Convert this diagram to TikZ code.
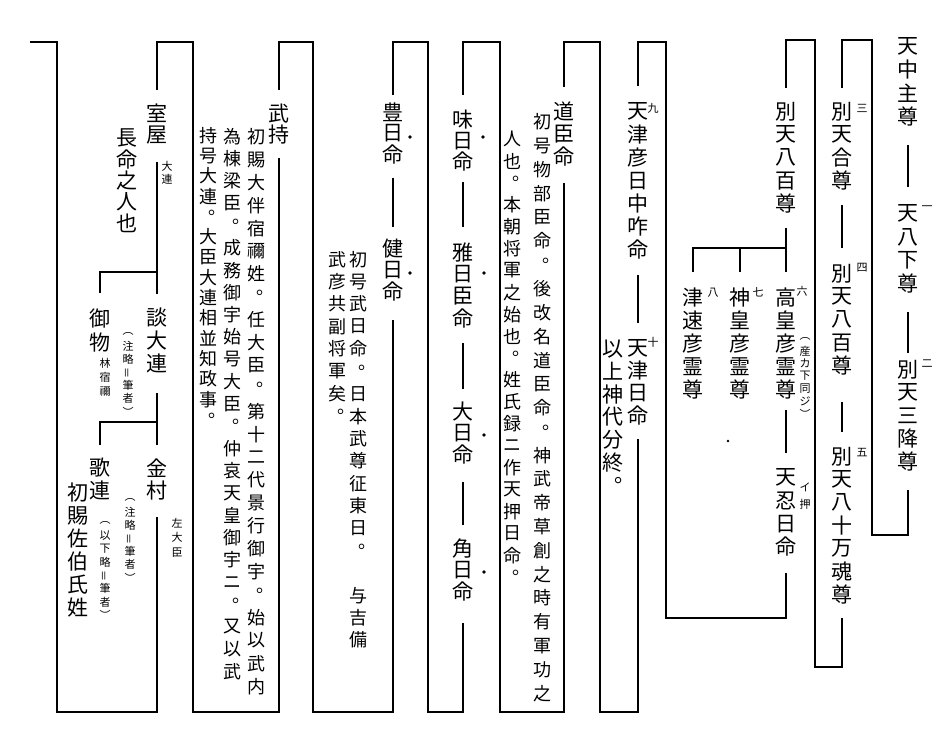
\documentclass[tikz,border=0pt]{standalone}
\usepackage{fontspec}
\setmainfont{Noto Sans CJK JP}
\newcommand\nmf{\fontsize{21pt}{23pt}\selectfont}
\newcommand\ntf{\fontsize{18pt}{21pt}\selectfont}
\newcommand\smf{\fontsize{11pt}{13pt}\selectfont}
\makeatletter
\def\vt@maru{。}
\def\vt@eq{＝}
\newcommand\vt[2]{%
  \vbox{\offinterlineskip
    \@tfor\vt@c:=#2\do{%
      \vbox to #1{\vss
        \hbox to 1em{\hss
          \ifx\vt@c\vt@maru
            \hbox to 1em{\kern.55em\raise.5em\rlap{\vt@c}\hss}%
          \else\ifx\vt@c\vt@eq
            \rotatebox[origin=c]{90}{\vt@c}%
          \else\vt@c\fi\fi
        \hss}\vss}}}}
\makeatother
\begin{document}
\begin{tikzpicture}[x=1pt,y=-1pt,
  nm/.style={anchor=north,inner sep=0pt,font=\nmf},
  nt/.style={anchor=north,inner sep=0pt,font=\ntf},
  sm/.style={anchor=north,inner sep=0pt,font=\smf},
  num/.style={anchor=center,inner sep=0pt,font=\smf},
  ln/.style={line width=1.1pt}]
\fill[white] (0,0) rectangle (941,739);
\useasboundingbox (0,0) rectangle (941,739);
% ---------- corner coordinates
\coordinate (Ab) at (908,535);
\coordinate (Bb) at (872,535); \coordinate (Bt) at (872,40); \coordinate (Bc) at (842,40);
\coordinate (Be) at (842,667);
\coordinate (Cb) at (815,667); \coordinate (Ct) at (815,40); \coordinate (Cc) at (786,40);
\coordinate (Cj1) at (786,248); \coordinate (Cj2) at (740,248); \coordinate (Cj3) at (693,248);
\coordinate (Ce) at (786,618);
\coordinate (Db) at (666,618); \coordinate (Dt) at (666,42); \coordinate (Dc) at (638,42);
\coordinate (De) at (638,712);
\coordinate (Eb) at (600,712); \coordinate (Et) at (600,42); \coordinate (Ec) at (564,42);
\coordinate (Ee) at (564,712);
\coordinate (Fb) at (500,712); \coordinate (Ft) at (500,42); \coordinate (Fc) at (463,42);
\coordinate (Fe) at (463,712);
\coordinate (Gb) at (428,712); \coordinate (Gt) at (428,42); \coordinate (Gc) at (393,42);
\coordinate (Ge) at (393,712);
\coordinate (Hb) at (313,712); \coordinate (Ht) at (313,42); \coordinate (Hc) at (279,42);
\coordinate (He) at (279,712);
\coordinate (Ib) at (193,712); \coordinate (It) at (193,42); \coordinate (Ic) at (157,42);
\coordinate (Ij1) at (157,272); \coordinate (Ij2) at (100,272);
\coordinate (Ik1) at (157,422); \coordinate (Ik2) at (100,422);
\coordinate (Ie) at (157,712);
\coordinate (Jb) at (57,712); \coordinate (Jt) at (57,42); \coordinate (Jc) at (30,42);
% ---------- section A
\node[nm] (a1) at (908,35) {\vt{23.2pt}{天中主尊}};
\node[nm] (a2) at (908,202) {\vt{23.2pt}{天八下尊}};
\node[nm] (a3) at (908,358) {\vt{23pt}{別天三降尊}};
\node[num] (n1) at (927,208) {一};
\node[num] (n2) at (927,364) {二};
% ---------- section B
\node[nm] (b1) at (842,100) {\vt{23pt}{別天合尊}};
\node[nm] (b2) at (842,262) {\vt{23pt}{別天八百尊}};
\node[nm] (b3) at (842,445) {\vt{23pt}{別天八十万魂尊}};
\node[num] (n3) at (862,108) {三};
\node[num] (n4) at (862,268) {四};
\node[num] (n5) at (862,453) {五};
% ---------- section C
\node[nm] (c1) at (786,100) {\vt{23pt}{別天八百尊}};
\node[nm] (c2) at (786,286) {\vt{23pt}{高皇彦霊尊}};
\node[nm] (c3) at (740,286) {\vt{23pt}{神皇彦霊尊}};
\node[nm] (c4) at (693,286) {\vt{23pt}{津速彦霊尊}};
\node[nm] (c5) at (786,466) {\vt{23pt}{天忍日命}};
\node[num] (n6) at (802,291) {六};
\node[num] (n7) at (758,292) {七};
\node[num] (n8) at (713,293) {八};
\node[sm] (c2n) at (805,332) {\vt{12.5pt}{︵産カ下同ジ︶}};
\node[sm] (c5n) at (805,479) {\vt{17pt}{イ押}};
% ---------- section D
\node[nm] (d1) at (638,100) {\vt{23pt}{天津彦日中咋命}};
\node[nm] (d2) at (638,337) {\vt{22.5pt}{天津日命}};
\node[nm] (d3) at (613,337) {\vt{22.8pt}{以上神代分終。}};
\node[num] (n9) at (653,108) {九};
\node[num] (n10) at (653,342) {十};
% ---------- section E
\node[nm] (e1) at (564,100) {\vt{22.5pt}{道臣命}};
\node[nt] (e2) at (542,110) {\vt{23.8pt}{初号物部臣命。後改名道臣命。神武帝草創之時有軍功之}};
\node[nt] (e3) at (512,128) {\vt{21.9pt}{人也。本朝将軍之始也。姓氏録ニ作天押日命。}};
% ---------- section F
\node[nm] (f1) at (463,109) {\vt{21pt}{味日命}};
\node[nm] (f2) at (463,241) {\vt{22pt}{雅日臣命}};
\node[nm] (f3) at (463,401) {\vt{21.5pt}{大日命}};
\node[nm] (f4) at (463,538) {\vt{21.5pt}{角日命}};
% ---------- section G
\node[nm] (g1) at (393,101) {\vt{21.5pt}{豊日命}};
\node[nm] (g2) at (393,238) {\vt{21.5pt}{健日命}};
\node[nt] (g3) at (358,248) {\vt{22.4pt}{初号武日命。日本武尊征東日。　与吉備}};
\node[nt] (g4) at (337,248) {\vt{22.4pt}{武彦共副将軍矣。}};
% ---------- section H
\node[nm] (h1) at (279,103) {\vt{21pt}{武持}};
\node[nt] (h2) at (256,125) {\vt{22.9pt}{初賜大伴宿禰姓。任大臣。第十二代景行御宇。始以武内}};
\node[nt] (h3) at (232,125) {\vt{22.3pt}{為棟梁臣。成務御宇始号大臣。仲哀天皇御宇ニ。又以武}};
\node[nt] (h4) at (208,125) {\vt{20.3pt}{持号大連。大臣大連相並知政事。}};
% ---------- section I
\node[nm] (i1) at (157,103) {\vt{21pt}{室屋}};
\node[nm] (i2) at (127,127) {\vt{21.4pt}{長命之人也}};
\node[nm] (i3) at (157,306) {\vt{23pt}{談大連}};
\node[nm] (i4) at (100,306) {\vt{24pt}{御物}};
\node[nm] (i5) at (157,456) {\vt{23pt}{金村}};
\node[nm] (i6) at (100,456) {\vt{23pt}{歌連}};
\node[nm] (i7) at (78,481) {\vt{23pt}{初賜佐伯氏姓}};
\node[sm] (i1n) at (167,160) {\vt{13pt}{大連}};
\node[sm] (i4n) at (105,356) {\vt{14pt}{林宿禰}};
\node[sm] (i3n) at (128,327) {\vt{13pt}{︵注略＝筆者︶}};
\node[sm] (i5n) at (177,515) {\vt{15pt}{左大臣}};
\node[sm] (i5m) at (130,493) {\vt{13pt}{︵注略＝筆者︶}};
\node[sm] (i6n) at (105,516) {\vt{13.2pt}{︵以下略＝筆者︶}};
% ---------- dots
\fill (483,137) circle (1.8);
\fill (484,273) circle (1.8);
\fill (484,435) circle (1.8);
\fill (484,572) circle (1.8);
\fill (410,137) circle (1.8);
\fill (410,273) circle (1.8);
\fill (728,441) circle (1.3);
% ---------- connectors
\draw[ln] ([yshift=-17pt]a1.south) -- ([yshift=15pt]a2.north);
\draw[ln] ([yshift=-17pt]a2.south) -- ([yshift=5pt]a3.north);
\draw[ln] ([yshift=-17pt]a3.south) -- (Ab) -- (Bb) -- (Bt) -- (Bc) -- ([yshift=12pt]b1.north);
\draw[ln] ([yshift=-13pt]b1.south) -- ([yshift=14pt]b2.north);
\draw[ln] ([yshift=-25pt]b2.south) -- ([yshift=13pt]b3.north);
\draw[ln] ([yshift=-12pt]b3.south) -- (Be) -- (Cb) -- (Ct) -- (Cc) -- ([yshift=12pt]c1.north);
\draw[ln] ([yshift=-13pt]c1.south) -- ([yshift=14pt]c2.north);
\draw[ln] (Cj1) -- (Cj3) -- ([yshift=14pt]c4.north);
\draw[ln] (Cj2) -- ([yshift=14pt]c3.north);
\draw[ln] ([yshift=-9pt]c2.south) -- ([yshift=13pt]c5.north);
\draw[ln] ([yshift=-15pt]c5.south) -- (Ce) -- (Db) -- (Dt) -- (Dc) -- ([yshift=14pt]d1.north);
\draw[ln] ([yshift=-14pt]d1.south) -- ([yshift=14pt]d2.north);
\draw[ln] ([yshift=-12pt]d2.south) -- (De) -- (Eb) -- (Et) -- (Ec) -- ([yshift=13pt]e1.north);
\draw[ln] ([yshift=-15pt]e1.south) -- (Ee) -- (Fb) -- (Ft) -- (Fc) -- ([yshift=14pt]f1.north);
\draw[ln] ([yshift=-10pt]f1.south) -- ([yshift=14pt]f2.north);
\draw[ln] ([yshift=-14pt]f2.south) -- ([yshift=12pt]f3.north);
\draw[ln] ([yshift=-16pt]f3.south) -- ([yshift=13pt]f4.north);
\draw[ln] ([yshift=-20pt]f4.south) -- (Fe) -- (Gb) -- (Gt) -- (Gc) -- ([yshift=6pt]g1.north);
\draw[ln] ([yshift=-12pt]g1.south) -- ([yshift=11pt]g2.north);
\draw[ln] ([yshift=-17pt]g2.south) -- (Ge) -- (Hb) -- (Ht) -- (Hc) -- ([yshift=13pt]h1.north);
\draw[ln] ([yshift=-13pt]h1.south) -- (He) -- (Ib) -- (It) -- (Ic) -- ([yshift=13pt]i1.north);
\draw[ln] ([yshift=-17pt]i1.south) -- ([yshift=12pt]i3.north);
\draw[ln] (Ij1) -- (Ij2) -- ([yshift=13pt]i4.north);
\draw[ln] ([yshift=-18pt]i3.south) -- ([yshift=11pt]i5.north);
\draw[ln] (Ik1) -- (Ik2) -- ([yshift=11pt]i6.north);
\draw[ln] ([yshift=-15pt]i5.south) -- (Ie) -- (Jb) -- (Jt) -- (Jc);
\end{tikzpicture}
\end{document}
